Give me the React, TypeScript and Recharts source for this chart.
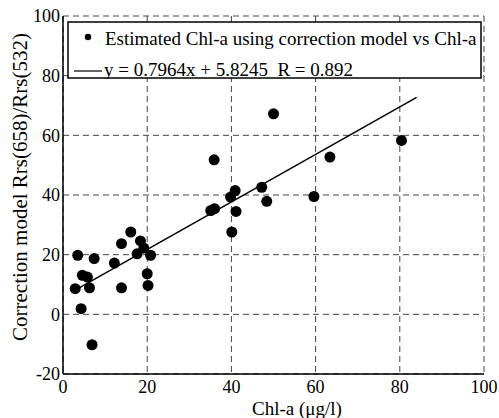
import { ScatterChart, Scatter, XAxis, YAxis, CartesianGrid } from 'recharts'

const xTicks = [0, 20, 40, 60, 80, 100]
const yTicks = [-20, 0, 20, 40, 60, 80, 100]

// measured Chl-a (µg/l)
const chlA = [
  2.9, 3.5, 4.3, 4.6, 5.8, 6.3, 6.9, 7.4, 12.2, 13.9, 13.9, 16.1, 17.6, 18.4, 19.2,
  20.8, 20.0, 20.2, 35.1, 36.0, 35.9, 39.8, 40.9, 41.1, 40.1, 47.2, 48.4, 50.0,
  59.6, 63.4, 80.4,
]
// estimated Chl-a from correction model Rrs(658)/Rrs(532)
const estimated = [
  8.6, 19.8, 1.9, 13.1, 12.5, 8.9, -10.2, 18.7, 17.2, 23.7, 8.9, 27.6, 20.3, 24.6, 22.2,
  19.8, 13.6, 9.7, 34.8, 35.4, 51.8, 39.3, 41.5, 34.5, 27.6, 42.6, 37.9, 67.2,
  39.5, 52.7, 58.3,
]

// fitted line end points, y = 0.7964x + 5.8245
const fitX = [3, 84]
const fitY = [8.2, 72.7]

const points = chlA.map((x, i) => ({ x, y: estimated[i] }))
const fitLine = fitX.map((x, i) => ({ x, y: fitY[i] }))

const font = 'Liberation Serif, Times New Roman, DejaVu Serif, serif'
const tickStyle = { fill: '#000', fontSize: 18, style: { fontFamily: font } }
const axisLine = { stroke: '#000', strokeWidth: 1.5 }

const Dot = (p: any) => <circle cx={p.cx} cy={p.cy} r={5.5} fill="#000" />

export default function App() {
  return (
    <div
      style={{
        position: 'absolute',
        left: 0,
        top: 0,
        width: 499,
        height: 418,
        background: '#fff',
        fontFamily: font,
      }}
    >
      <ScatterChart
        width={499}
        height={418}
        margin={{ top: 16, right: 15, bottom: 2, left: 13 }}
        style={{ fontFamily: font }}
      >
        <CartesianGrid stroke="#444" strokeDasharray="6 4" strokeWidth={1} />
        <XAxis
          type="number"
          dataKey="x"
          domain={[0, 100]}
          ticks={xTicks}
          height={42}
          tickLine={false}
          tickSize={0}
          tickMargin={6}
          tick={tickStyle}
          axisLine={axisLine}
          label={() => (
            <text x={297} y={415} textAnchor="middle" fontSize={19} style={{ fontFamily: font }} fill="#000">
              Chl-a (μg/l)
            </text>
          )}
        />
        <YAxis
          type="number"
          dataKey="y"
          domain={[-20, 100]}
          ticks={yTicks}
          width={50}
          tickLine={false}
          tickSize={0}
          tickMargin={3}
          tick={tickStyle}
          axisLine={axisLine}
          label={() => (
            <text
              x={27}
              y={187}
              textAnchor="middle"
              fontSize={21}
              style={{ fontFamily: font }}
              fill="#000"
              transform="rotate(-90, 27, 187)"
            >
              Correction model Rrs(658)/Rrs(532)
            </text>
          )}
        />
        <XAxis
          xAxisId="top"
          orientation="top"
          type="number"
          domain={[0, 100]}
          ticks={xTicks}
          height={0}
          mirror
          tickSize={5}
          tick={false}
          tickLine={{ stroke: '#000' }}
          axisLine={axisLine}
        />
        <YAxis
          yAxisId="right"
          orientation="right"
          type="number"
          domain={[-20, 100]}
          ticks={yTicks}
          width={0}
          mirror
          tickSize={5}
          tick={false}
          tickLine={{ stroke: '#000' }}
          axisLine={axisLine}
        />
        <Scatter data={points} shape={Dot} isAnimationActive={false} />
        <Scatter
          data={fitLine}
          line={{ stroke: '#000', strokeWidth: 1.5 }}
          shape={() => <g />}
          isAnimationActive={false}
        />
      </ScatterChart>
      <svg
        width={415}
        height={58}
        style={{ position: 'absolute', left: 67, top: 21, fontFamily: font }}
      >
        <rect x={1} y={1} width={413} height={56} fill="#fff" stroke="#000" strokeWidth={1.5} />
        <circle cx={21} cy={16} r={3.2} fill="#000" />
        <text x={38} y={24} fontSize={19} fill="#000">
          Estimated Chl-a using correction model vs Chl-a
        </text>
        <line x1={7} y1={50} x2={35} y2={50} stroke="#000" strokeWidth={1.2} />
        <text x={37} y={55} fontSize={19} fill="#000" xmlSpace="preserve">
          y = 0.7964x + 5.8245  R = 0.892
        </text>
      </svg>
    </div>
  )
}
